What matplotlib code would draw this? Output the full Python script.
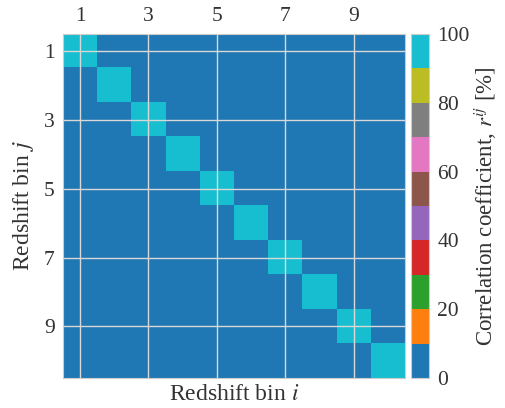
import numpy as np
import matplotlib
matplotlib.use("Agg")
import matplotlib.pyplot as plt

plt.rcParams['font.family'] = ['Liberation Serif', 'DejaVu Serif']
plt.rcParams['mathtext.fontset'] = 'stix'

# correlation matrix in percent (10 redshift bins)
n_bins = 10
corr = [[100 if i == j else 0 for i in range(n_bins)] for j in range(n_bins)]
tick_pos = [0, 2, 4, 6, 8]
tick_labels = ['1', '3', '5', '7', '9']
cbar_ticks = [0, 20, 40, 60, 80, 100]

fig = plt.figure(figsize=(5.06, 4.08), dpi=100)
ax = fig.add_axes([0.1245, 0.0735, 0.6755, 0.8432])
cax = fig.add_axes([0.812, 0.0735, 0.036, 0.8432])

im = ax.imshow(np.array(corr), cmap='tab10', vmin=0, vmax=100,
               aspect='auto', interpolation='nearest')
ax.xaxis.tick_top()
ax.set_xticks(tick_pos)
ax.set_xticklabels(tick_labels)
ax.set_yticks(tick_pos)
ax.set_yticklabels(tick_labels)
ax.tick_params(length=0, labelsize=15.5, labelcolor='#333333', pad=6)
ax.grid(True, color='#d8d8d8', lw=1)
for s in ax.spines.values():
    s.set_color('#cccccc')
ax.set_xlabel('Redshift bin $i$', fontsize=17, color='#333333', labelpad=4)
ax.set_ylabel('Redshift bin $j$', fontsize=17, color='#333333', labelpad=6)

cb = fig.colorbar(im, cax=cax, ticks=cbar_ticks)
cb.outline.set_edgecolor('#cccccc')
cax.tick_params(length=0, labelsize=15.5, labelcolor='#333333', pad=6)
cb.set_label('Correlation coefficient, $r^{ij}$ [%]', fontsize=16.5,
             color='#333333', labelpad=2)

fig.savefig('out.png', dpi=100)
